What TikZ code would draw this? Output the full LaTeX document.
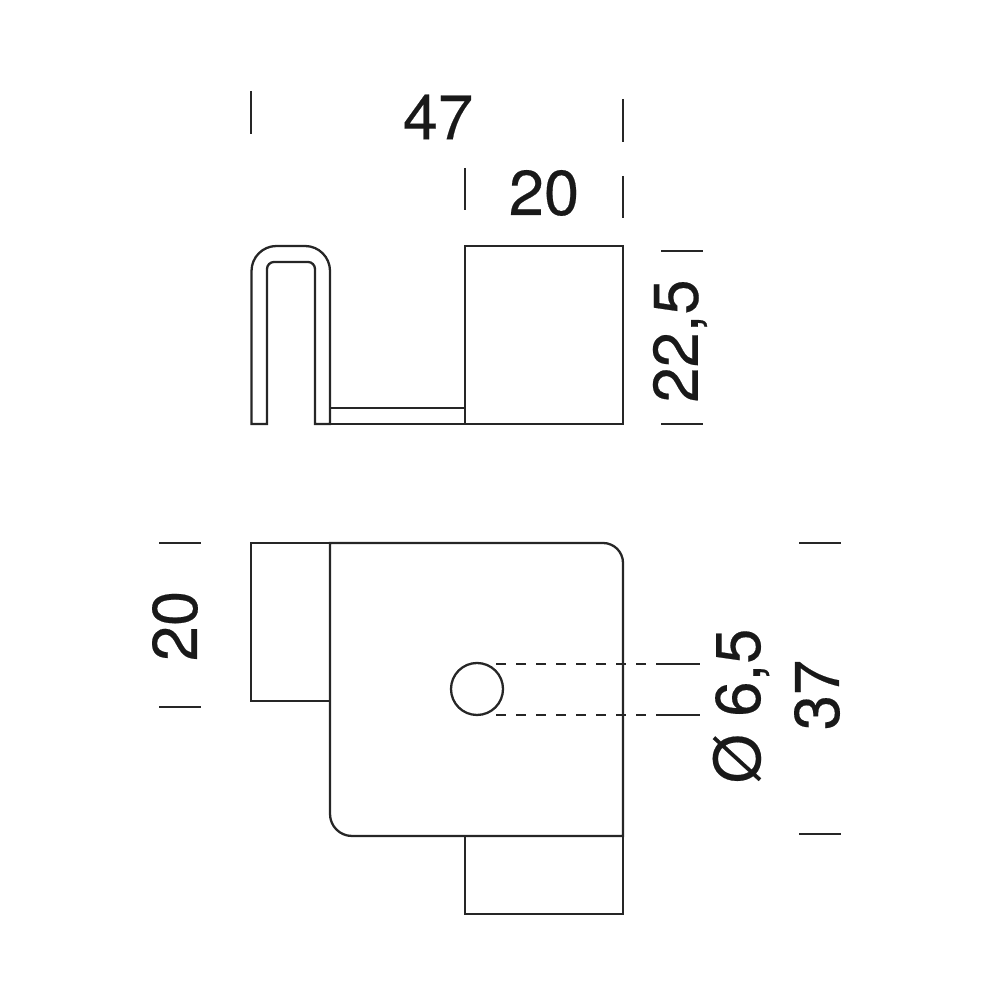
\documentclass[tikz,border=0pt]{standalone}
\usepackage{fontspec}
\setmainfont[FakeBold=0.3]{TeX Gyre Heros}
\tikzset{
  part/.style = {line width = 0.65pt, black!85},
  tick/.style = {line width = 0.5pt, black!85},
  size/.style = {font = \fontsize{18}{19}\selectfont, black!90, inner sep = 0pt},
  hidden/.style = {line width = 0.7pt, black!85, dash pattern = on 2.85pt off 2.85pt}
}

\begin{document}
\begin{tikzpicture}
\useasboundingbox (0,0) rectangle (10,10);

\draw[part] (2.515,5.76)--(2.515,7.29) arc (180:90:0.25) --(3.05,7.54) arc (90:0:0.25) --(3.30,5.76)--(3.15,5.76)--(3.15,7.31) arc (0:90:0.07) --(2.74,7.38) arc (90:180:0.07) --(2.67,5.76)--cycle;
\draw[part] (3.30,5.76)--(6.23,5.76)--(6.23,7.54)--(4.65,7.54)--(4.65,5.76);
\draw[part] (3.30,5.92)--(4.65,5.92);

\draw[part] (3.30,4.57)--(2.51,4.57)--(2.51,2.99)--(3.30,2.99);
\draw[part] (3.30,4.57)--(6.03,4.57) arc (90:0:0.20) --(6.23,1.64)--(3.52,1.64) arc (270:180:0.22) --cycle;
\draw[part] (4.65,1.64)--(4.65,0.86)--(6.23,0.86)--(6.23,1.64);
\draw[part] (4.77,3.11) circle (0.26);

\draw[hidden] (4.96,3.36)--(6.46,3.36);
\draw[hidden] (4.96,2.85)--(6.46,2.85);
\draw[tick] (6.56,3.36)--(7.00,3.36);
\draw[tick] (6.56,2.85)--(7.00,2.85);

\draw[tick] (2.51,9.09)--(2.51,8.66);
\draw[tick] (6.23,9.01)--(6.23,8.58);
\draw[tick] (4.65,8.32)--(4.65,7.90);
\draw[tick] (6.23,8.24)--(6.23,7.82);
\draw[tick] (6.61,7.49)--(7.03,7.49);
\draw[tick] (6.61,5.76)--(7.03,5.76);
\draw[tick] (1.59,4.57)--(2.01,4.57);
\draw[tick] (1.59,2.93)--(2.01,2.93);
\draw[tick] (7.99,4.57)--(8.41,4.57);
\draw[tick] (7.99,1.66)--(8.41,1.66);

\node[size] (width) at (4.38,8.83) {47};
\node[size] (depth) at (5.44,8.07) {20};
\node[size, rotate = 90] (height) at (6.80,6.59) {22,5};
\node[size, rotate = 90] (side) at (1.75,3.74) {20};
\node[size, rotate = 90] (bore) at (7.41,2.94) {Ø 6,5};
\node[size, rotate = 90] (length) at (8.17,3.05) {37};
\end{tikzpicture}
\end{document}
